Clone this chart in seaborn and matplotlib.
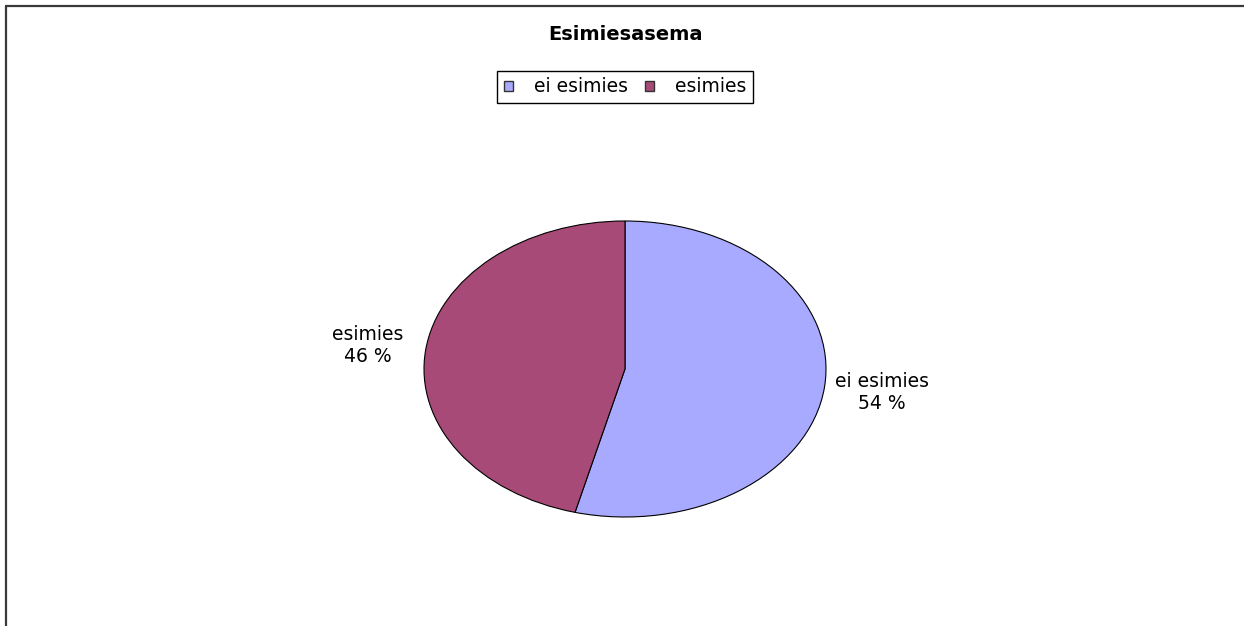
import matplotlib
matplotlib.use("Agg")
import matplotlib.pyplot as plt
import seaborn as sns
from matplotlib.lines import Line2D

# Data
categories = ["ei esimies", "esimies"]
shares = [54, 46]
colors_hex = ["#A8AAFF", "#A84A77"]
title_text = "Esimiesasema"

sns.set_theme(style="white")
plt.rcParams["font.family"] = ["DejaVu Sans"]
plt.rcParams["text.color"] = "black"
palette = sns.color_palette(colors_hex)

W, H = 1244, 626
fig = plt.figure(figsize=(W / 100, H / 100), dpi=100)
fig.patch.set_facecolor("white")

# Pie axes: ellipse stretched horizontally, like the reference
cx, cy, rx, ry = 625, 369, 201, 148
ax = fig.add_axes([(cx - rx) / W, (H - (cy + ry)) / H, 2 * rx / W, 2 * ry / H])

labels = [f"{c}\n{v} %" for c, v in zip(categories, shares)]
wedges, texts = ax.pie(
    shares,
    labels=labels,
    colors=palette,
    startangle=90,
    counterclock=False,
    labeldistance=1.29,
    wedgeprops=dict(edgecolor="black", linewidth=0.8),
    textprops=dict(fontsize=13.5, color="black"),
)
for t in texts:
    t.set_ha("center")
    t.set_va("center")
    t.set_multialignment("center")
ax.set_aspect("auto")
ax.set_xlim(-1.0, 1.0)
ax.set_ylim(-1.0, 1.0)
ax.axis("off")

# Title
fig.text(cx / W, 1 - 35 / H, title_text, ha="center", va="center",
         fontsize=14, fontweight="bold", color="black")

# Legend
leg = fig.legend(
    wedges, categories,
    loc="center", bbox_to_anchor=(cx / W, 1 - 87 / H),
    ncol=2, fontsize=13.5, frameon=True, fancybox=False, shadow=False,
    handlelength=0.5, handleheight=0.5, handletextpad=1.1,
    columnspacing=0.9, borderpad=0.35, borderaxespad=0,
    labelcolor="black",
)
leg.get_frame().set_edgecolor("black")
leg.get_frame().set_linewidth(1.0)
leg.get_frame().set_alpha(1)
for h in leg.legend_handles:
    h.set_edgecolor("#333333")
    h.set_linewidth(1.0)

# Outer chart frame (top and left edges visible)
fig.add_artist(Line2D([5.5 / W, 1.0], [1 - 5.5 / H, 1 - 5.5 / H],
                      transform=fig.transFigure, color="#3a3a3a", linewidth=1.6))
fig.add_artist(Line2D([5.5 / W, 5.5 / W], [0.0, 1 - 5.5 / H],
                      transform=fig.transFigure, color="#3a3a3a", linewidth=1.6))

fig.savefig("out.png", dpi=100, facecolor="white")
